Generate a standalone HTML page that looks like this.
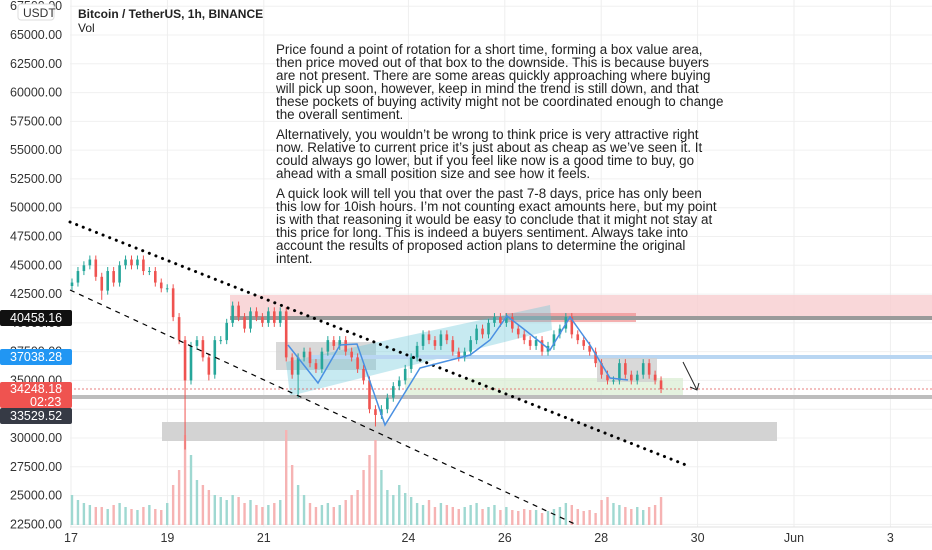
<!DOCTYPE html>
<html><head><meta charset="utf-8"><style>
html,body{margin:0;padding:0;background:#fff;}
svg{display:block;font-family:"Liberation Sans",sans-serif;}
</style></head><body>
<svg id="c" width="932" height="550" viewBox="0 0 932 550">
<g id="grid"></g>
<g id="zones">
  <rect x="230" y="295" width="702" height="23" fill="#f7cdd0" opacity="0.8"/>
  <rect x="505" y="313" width="131" height="9" fill="#f08f8f" opacity="0.7"/>
  <rect x="230" y="316" width="702" height="4" fill="#9a9a9a"/>
  <rect x="276" y="342" width="100" height="28" fill="#cfcfcf" opacity="0.8"/>
  <polygon points="286,362 550,305 552,330 290,396" fill="#5ec3d6" opacity="0.35"/>
  <rect x="310" y="355" width="622" height="4" fill="#b9d6f2"/>
  <rect x="405" y="378" width="278" height="19" fill="#d9ecd2" opacity="0.7"/>
  <rect x="70" y="395" width="862" height="4" fill="#bdbdbd"/>
  <rect x="597" y="358" width="60" height="24" fill="#cfcfcf" opacity="0.8"/>
  <rect x="162" y="422" width="615" height="19" fill="#d3d3d3"/>
  <line x1="70" y1="389" x2="932" y2="389" stroke="#e05555" stroke-width="0.8" stroke-dasharray="2,2"/>
</g>
<g id="vol"></g>
<g id="candles"></g>
<g>
  <line x1="70" y1="222" x2="686" y2="465" stroke="#000" stroke-width="3" stroke-dasharray="0.1,7" stroke-linecap="round"/>
  <line x1="70" y1="290" x2="577" y2="525" stroke="#000" stroke-width="1.2" stroke-dasharray="5,5"/>
  <polyline points="288,345 318,383 340,345 357,344 385,425 420,368 470,355 490,340 507,316 525,330 550,350 570,317 590,345 610,378 628,380" fill="none" stroke="#4a90e2" stroke-width="1.5"/>
  <line x1="683" y1="362" x2="697" y2="390" stroke="#222" stroke-width="1"/>
  <polyline points="690,387 697,390 699,383" fill="none" stroke="#222" stroke-width="1"/>
</g>
<g id="yaxis" font-size="12.5" fill="#333"></g>
<g id="xaxis" font-size="12.5" fill="#333"></g>
<g font-size="12.5">
  <rect x="0" y="310" width="72" height="16" rx="2" fill="#111"/>
  <text x="10" y="322" fill="#fff">40458.16</text>
  <rect x="0" y="349" width="72" height="16" rx="2" fill="#2196f3"/>
  <text x="10" y="361" fill="#fff">37038.28</text>
  <rect x="0" y="382" width="72" height="26" rx="2" fill="#ef5350"/>
  <text x="10" y="393" fill="#fff">34248.18</text>
  <text x="30" y="406" fill="#fff">02:23</text>
  <rect x="0" y="408" width="72" height="16" rx="2" fill="#363a45"/>
  <text x="10" y="420" fill="#fff">33529.52</text>
  <rect x="18" y="4" width="36" height="16" rx="3" fill="#fff" stroke="#ddd"/>
  <text x="23" y="17" fill="#333" font-size="12">USDT</text>
</g>
<g>
  <text x="78" y="18" font-size="12" font-weight="bold" fill="#222">Bitcoin / TetherUS, 1h, BINANCE</text>
  <text x="78" y="32" font-size="12" fill="#222">Vol</text>
</g>
<g font-size="13.4" fill="#222">
  <text x="276" y="54">Price found a point of rotation for a short time, forming a box value area,</text>
  <text x="276" y="67">then price moved out of that box to the downside. This is because buyers</text>
  <text x="276" y="80">are not present. There are some areas quickly approaching where buying</text>
  <text x="276" y="93">will pick up soon, however, keep in mind the trend is still down, and that</text>
  <text x="276" y="106">these pockets of buying activity might not be coordinated enough to change</text>
  <text x="276" y="119">the overall sentiment.</text>
  <text x="276" y="139">Alternatively, you wouldn’t be wrong to think price is very attractive right</text>
  <text x="276" y="152">now. Relative to current price it’s just about as cheap as we’ve seen it. It</text>
  <text x="276" y="165">could always go lower, but if you feel like now is a good time to buy, go</text>
  <text x="276" y="178">ahead with a small position size and see how it feels.</text>
  <text x="276" y="198">A quick look will tell you that over the past 7-8 days, price has only been</text>
  <text x="276" y="211">this low for 10ish hours. I’m not counting exact amounts here, but my point</text>
  <text x="276" y="224">is with that reasoning it would be easy to conclude that it might not stay at</text>
  <text x="276" y="237">this price for long. This is indeed a buyers sentiment. Always take into</text>
  <text x="276" y="250">account the results of proposed action plans to determine the original</text>
  <text x="276" y="263">intent.</text>
</g>
</svg>
<script>
const closes=[43500,44500,45000,45500,44000,42800,44500,43500,45000,45500,45000,45500,44500,44500,43500,43000,43000,40500,38500,35000,38000,38500,37000,35500,38500,38500,40000,41500,40500,39500,41000,40500,40000,41000,40000,41000,37000,35500,37000,37500,36500,36000,37500,38500,38000,38500,37500,37000,36000,35000,32500,32000,32500,33500,34500,35000,36000,37000,38000,39000,38500,38000,39000,38500,37500,37000,37500,38500,39500,39000,40000,40500,40000,40500,39500,39000,38500,38000,38500,37500,38000,39000,39500,40500,39000,38500,38000,37500,36500,35500,35000,35000,36500,35500,35000,35500,36500,35500,35000,34250];
const lows={19:29000,38:33500,51:31000,5:42000,23:35000};
const volumes=[30,25,22,20,18,18,16,20,22,18,16,15,18,20,16,15,22,40,55,90,70,45,40,35,30,28,25,30,28,22,25,20,18,20,22,25,95,60,40,30,22,18,20,22,18,20,25,30,35,55,70,85,55,35,30,40,32,28,22,20,25,18,22,20,18,16,18,20,22,16,18,20,15,18,15,14,16,15,15,12,14,16,18,22,20,16,14,15,12,25,28,22,20,18,16,18,15,18,20,28];
const yTicks=[22500,25000,27500,30000,32500,35000,37500,40000,42500,45000,47500,50000,52500,55000,57500,60000,62500,65000,67500];
const xLabels=["17","19","21","24","26","28","30","Jun","3"];
const xLabelPos=[0,2,4,7,9,11,13,15,17];
const NS="http://www.w3.org/2000/svg";
function y(p){return 438-(p-30000)*0.011514;}
function xi(i){return 72+i*5.95;}
function xd(d){return 71+d*48.2;}
function mk(t,a,parent){const e=document.createElementNS(NS,t);for(const k in a)e.setAttribute(k,a[k]);document.getElementById(parent).appendChild(e);return e;}
yTicks.forEach(p=>{
  const g=mk('line',{x1:70,x2:932,y1:y(p),y2:y(p),stroke:'#f0f0f0'},'grid');
  
  
  const t=mk('text',{x:10,y:y(p)+4},'yaxis');t.textContent=p.toFixed(2);
  
  
});
xLabels.forEach((l,k)=>{
  const X=xd(xLabelPos[k]);
  const g=mk('line',{x1:X,x2:X,y1:0,y2:527,stroke:'#eee'},'grid');
  
  
  const t=mk('text',{x:X,y:542,'text-anchor':'middle'},'xaxis');t.textContent=l;
  
  
});
const ax=mk('line',{x1:70,x2:932,y1:527,y2:527,stroke:'#e0e0e0'},'xaxis');


closes.forEach((c,i)=>{
  const o=i?closes[i-1]:c-300;
  const up=c>=o;const col=up?'#26a69a':'#ef5350';
  const hi=Math.max(o,c)+350;const lo=lows[i]!==undefined?lows[i]:Math.min(o,c)-350;
  const X=xi(i);
  const w=mk('line',{x1:X,x2:X,y1:y(hi),y2:y(lo),stroke:col,'stroke-width':1},'candles');
  
  
  const b=mk('rect',{x:X-1.3,y:y(Math.max(o,c)),width:2.6,height:Math.max(1,Math.abs(y(o)-y(c))),fill:col},'candles');
  
  
  const v=volumes[i];
  const vb=mk('rect',{x:X-1.2,y:525-v,width:2.4,height:v,fill:up?'#9fd8d1':'#f6b3b3'},'vol');
  
  
});
</script>
</body></html>
